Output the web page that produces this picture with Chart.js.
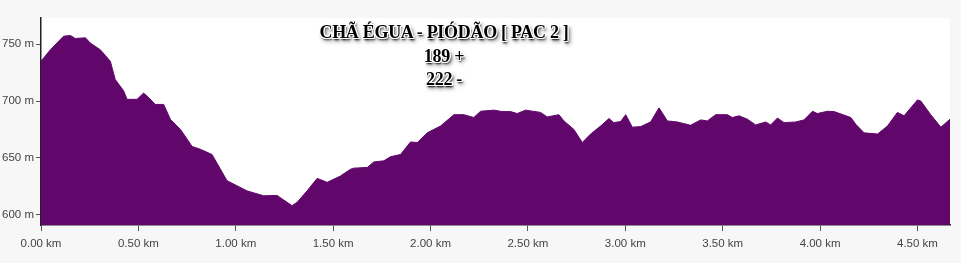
<!DOCTYPE html>
<html>
<head>
<meta charset="utf-8">
<script src="https://cdn.jsdelivr.net/npm/chart.js@4"></script>
<style>
  html, body { margin: 0; padding: 0; background: #f7f7f7; }
  .wrap { position: relative; width: 961px; height: 263px; }
  .title {
    position: absolute; left: 244px; top: 21px; width: 400px;
    text-align: center; font-family: "Liberation Serif", "DejaVu Serif", serif;
    font-weight: bold; font-size: 18px; line-height: 23.5px; color: #000;
    letter-spacing: -0.3px;
    text-shadow: -1px -1px 0 #fff, 1px -1px 0 #fff, -1px 1px 0 #fff, 1px 1px 0 #fff,
                 0 -1px 0 #fff, 0 1px 0 #fff, -1px 0 0 #fff, 1px 0 0 #fff,
                 1px 2px 2px #000, 2px 3px 4px rgba(0,0,0,0.7);
    pointer-events: none;
  }
</style>
</head>
<body>
<div class="wrap">
  <canvas id="profile" width="961" height="263"></canvas>
  <div class="title" id="title"></div>
</div>
<script>
// Title lines
const titleLines = ["CHÃ ÉGUA - PIÓDÃO [ PAC 2 ]", "189 +", "222 -"];

// Distance along the route (km) and elevation (m)
const distances = [0.00, 0.048, 0.116, 0.151, 0.176, 0.228, 0.253, 0.305, 0.356, 0.381,
  0.424, 0.442, 0.493, 0.527, 0.553, 0.587, 0.630, 0.664, 0.716, 0.776,
  0.818, 0.878, 0.955, 1.058, 1.143, 1.212, 1.289, 1.315, 1.366, 1.418,
  1.469, 1.537, 1.589, 1.606, 1.675, 1.709, 1.760, 1.794, 1.846, 1.897,
  1.932, 1.983, 2.051, 2.120, 2.171, 2.222, 2.257, 2.325, 2.368, 2.411,
  2.445, 2.488, 2.565, 2.599, 2.659, 2.685, 2.736, 2.779, 2.822, 2.873,
  2.916, 2.941, 2.976, 3.002, 3.036, 3.079, 3.130, 3.173, 3.216, 3.267,
  3.335, 3.387, 3.421, 3.464, 3.524, 3.549, 3.584, 3.627, 3.669, 3.721,
  3.746, 3.781, 3.815, 3.875, 3.917, 3.961, 3.986, 4.038, 4.072, 4.158,
  4.183, 4.226, 4.295, 4.346, 4.397, 4.431, 4.500, 4.517, 4.568, 4.620, 4.667];
const elevations = [735, 745, 757, 757.6, 755, 755.6, 751, 745, 735, 719,
  709, 701.5, 701.5, 707, 703, 697, 697, 684, 675, 660,
  657.6, 653, 630, 621, 616.7, 617, 608, 611, 621, 632,
  628.5, 634, 640, 641, 641.6, 646.5, 647.4, 651, 653, 664,
  663.5, 672, 678, 688, 688, 685.5, 691, 692, 690.7, 690.7,
  689, 692, 690, 686, 688, 682.5, 675, 663.5, 671, 678,
  684.6, 681, 682, 688, 677, 677.5, 681.6, 694, 682.5, 681.6,
  678.7, 683.4, 682.5, 688, 688, 685.5, 687, 684, 679, 681.6,
  679, 685, 681, 681.6, 683.4, 691, 689, 691, 690.7, 685.5,
  679.6, 672, 671, 678, 690, 687, 701, 700, 688, 677, 684];

const yTicks = [600, 650, 700, 750];
const xTicks = [0, 0.5, 1, 1.5, 2, 2.5, 3, 3.5, 4, 4.5];

document.getElementById('title').innerHTML = titleLines.join('<br>');

const points = distances.map((d, i) => ({ x: d, y: elevations[i] }));

const plotBg = {
  id: 'plotBg',
  beforeDraw(chart) {
    const { ctx, chartArea: a } = chart;
    ctx.save();
    ctx.fillStyle = '#ffffff';
    ctx.fillRect(a.left, a.top, a.right - a.left, a.bottom - a.top);
    ctx.restore();
  }
};

const ctx = document.getElementById('profile').getContext('2d');
new Chart(ctx, {
  type: 'line',
  data: {
    datasets: [{
      data: points,
      borderColor: '#61076b',
      backgroundColor: '#61076b',
      borderWidth: 1,
      fill: 'start',
      tension: 0,
      pointRadius: 0
    }]
  },
  options: {
    responsive: false,
    animation: false,
    layout: { padding: { top: 18, right: 11, left: 0, bottom: 0 } },
    plugins: { legend: { display: false }, tooltip: { enabled: false } },
    scales: {
      x: {
        type: 'linear',
        min: 0,
        max: 4.667,
        afterBuildTicks: (s) => { s.ticks = xTicks.map(v => ({ value: v })); },
        afterFit: (s) => { s.height = 38; },
        border: { display: true, color: '#222', width: 1.5 },
        grid: { drawOnChartArea: false, drawTicks: true, tickLength: 6, color: '#555' },
        ticks: {
          color: '#444',
          font: { family: 'Liberation Sans, Arial', size: 11.5 },
          padding: 6,
          maxRotation: 0,
          callback: (v) => v.toFixed(2) + ' km'
        }
      },
      y: {
        min: 591,
        max: 773,
        afterBuildTicks: (s) => { s.ticks = yTicks.map(v => ({ value: v })); },
        afterFit: (s) => { s.width = 41; },
        border: { display: true, color: '#222', width: 1.5 },
        grid: { drawOnChartArea: false, drawTicks: true, tickLength: 5, color: '#555' },
        ticks: {
          color: '#444',
          font: { family: 'Liberation Sans, Arial', size: 11.5 },
          padding: 2,
          callback: (v) => v + ' m'
        }
      }
    }
  },
  plugins: [plotBg]
});
</script>
</body>
</html>
